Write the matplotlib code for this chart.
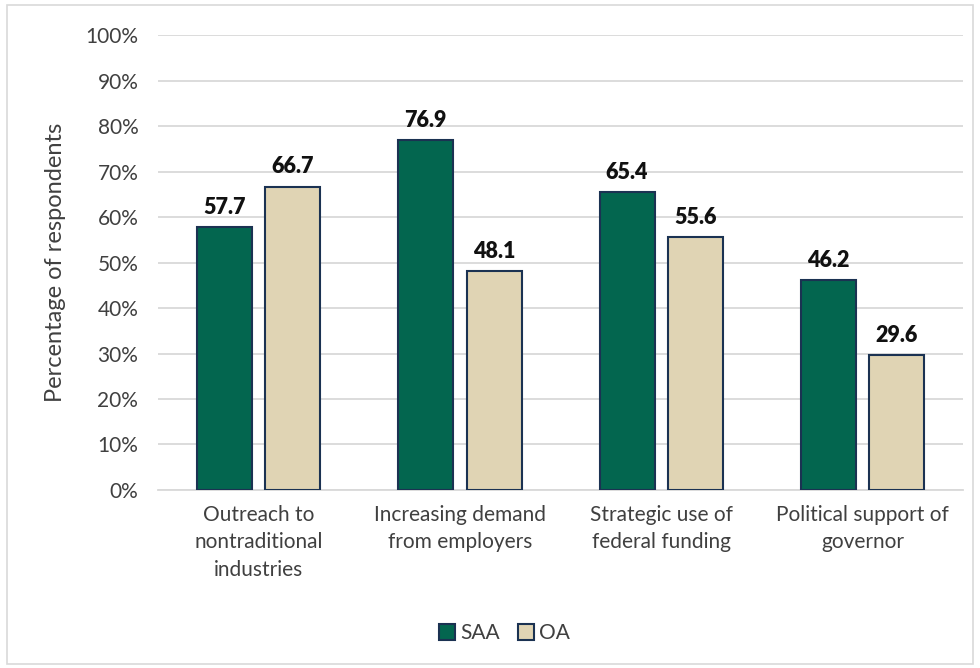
import numpy as np
import matplotlib.pyplot as plt
from matplotlib.patches import Rectangle

plt.rcParams['font.family'] = ['Lato', 'DejaVu Sans']

categories = ["Outreach to\nnontraditional\nindustries",
              "Increasing demand\nfrom employers",
              "Strategic use of\nfederal funding",
              "Political support of\ngovernor"]
saa = [57.7, 76.9, 65.4, 46.2]
oa = [66.7, 48.1, 55.6, 29.6]
yticks = [0, 10, 20, 30, 40, 50, 60, 70, 80, 90, 100]

c_saa = "#03664F"
c_oa = "#E0D4B4"
c_edge = "#1B3252"

fig = plt.figure(figsize=(9.8, 6.68), dpi=100)
ax = fig.add_axes([0.161, 0.2665, 0.822, 0.681])

# outer frame around the whole chart
fig.patches.append(Rectangle((0.007, 0.006), 0.986, 0.987, transform=fig.transFigure,
                             fill=False, edgecolor="#D9D9D9", linewidth=1.2))

x = np.arange(len(categories))
w = 0.273
off = 0.17
b1 = ax.bar(x - off, saa, w, color=c_saa, edgecolor=c_edge, linewidth=1.5, label="SAA", zorder=3)
b2 = ax.bar(x + off, oa, w, color=c_oa, edgecolor=c_edge, linewidth=1.5, label="OA", zorder=3)

for bars, vals in ((b1, saa), (b2, oa)):
    for r, v in zip(bars, vals):
        ax.text(r.get_x() + r.get_width() / 2, v + 2.0, f"{v:.1f}", ha="center", va="bottom",
                fontsize=15.5, fontweight="heavy", color="#111111")

ax.set_xlim(-0.5, len(categories) - 0.5)
ax.set_ylim(0, 100)
ax.set_yticks(yticks)
ax.set_yticklabels([f"{t}%" for t in yticks], fontsize=15, color="#404040")
ax.set_xticks(x)
ax.set_xticklabels(categories, fontsize=15, color="#404040", linespacing=1.45)
ax.tick_params(axis="y", length=0, pad=14)
ax.tick_params(axis="x", length=0, pad=11)
ax.yaxis.grid(True, color="#D9D9D9", linewidth=1.3, zorder=0)
for s in ("top", "right", "left"):
    ax.spines[s].set_visible(False)
ax.spines["bottom"].set_color("#D9D9D9")
ax.spines["bottom"].set_linewidth(1.3)

ax.set_ylabel("Percentage of respondents", fontsize=17, color="#404040", labelpad=14)

fig.legend(handles=[b1, b2], loc="center", bbox_to_anchor=(0.515, 0.052), ncol=2, frameon=False,
           fontsize=15, handlelength=0.75, handleheight=0.75, handletextpad=0.25, columnspacing=0.9,
           labelcolor="#404040")

fig.savefig("out.png", dpi=100)
